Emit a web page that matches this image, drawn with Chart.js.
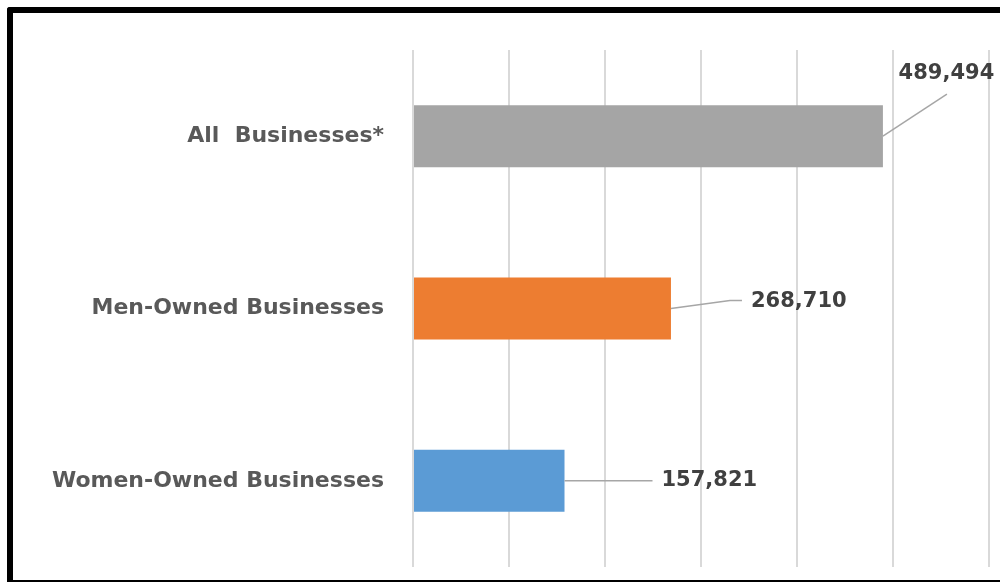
<!DOCTYPE html>
<html>
<head>
<meta charset="utf-8">
<script src="https://cdn.jsdelivr.net/npm/chart.js@4"></script>
<style>
  html, body { margin: 0; padding: 0; background: #ffffff; overflow: hidden; }
  #wrap { position: relative; width: 1000px; height: 584px; }
  #chart { position: absolute; left: 0; top: 0; }
  #frame {
    position: absolute; left: 7px; top: 7px; width: 1010px; height: 575px;
    border-left: 6px solid #000; border-top: 6px solid #000; border-bottom: 2px solid #000;
    border-top-left-radius: 3px; box-sizing: border-box; pointer-events: none;
  }
</style>
</head>
<body>
<div id="wrap">
  <canvas id="chart" width="1000" height="584"></canvas>
  <div id="frame"></div>
</div>
<script>
// Business counts by ownership
const categories = ['All  Businesses*', 'Men-Owned Businesses', 'Women-Owned Businesses'];
const businessCounts = [489494, 268710, 157821];
const barColors = ['#a5a5a5', '#ed7d31', '#5b9bd5'];

const labelFont = '"DejaVu Sans", sans-serif';

// Callout placement for each value label, relative to the bar end (pixels)
const calloutStyles = [
  { path: [[64, -42]], text: [63.5, -63], align: 'center' },
  { path: [[59, -8], [71, -8]], text: [80, -7], align: 'left' },
  { path: [[88, 0]], text: [97, 0], align: 'left' }
];

const valueCallouts = {
  id: 'valueCallouts',
  afterDatasetsDraw(chart) {
    const ctx = chart.ctx;
    const meta = chart.getDatasetMeta(0);
    ctx.save();
    meta.data.forEach((bar, i) => {
      const s = calloutStyles[i];
      const x0 = bar.x, y0 = bar.y;
      ctx.beginPath();
      ctx.moveTo(x0, y0);
      s.path.forEach(p => ctx.lineTo(x0 + p[0], y0 + p[1]));
      ctx.strokeStyle = '#a6a6a6';
      ctx.lineWidth = 1.5;
      ctx.stroke();
      ctx.font = 'bold 21px ' + labelFont;
      ctx.fillStyle = '#404040';
      ctx.textAlign = s.align;
      ctx.textBaseline = 'middle';
      const v = chart.data.datasets[0].data[i];
      ctx.fillText(v.toLocaleString('en-US'), x0 + s.text[0], y0 + s.text[1]);
    });
    ctx.restore();
  }
};

new Chart(document.getElementById('chart'), {
  type: 'bar',
  data: {
    labels: categories,
    datasets: [{
      data: businessCounts,
      backgroundColor: barColors,
      borderWidth: 0,
      categoryPercentage: 1,
      barPercentage: 0.36
    }]
  },
  options: {
    indexAxis: 'y',
    responsive: false,
    animation: false,
    events: [],
    layout: { padding: { top: 50, bottom: 17, right: 11, left: 0 } },
    plugins: { legend: { display: false }, tooltip: { enabled: false } },
    scales: {
      x: {
        min: 0, max: 600000,
        ticks: { display: false, stepSize: 100000 },
        grid: { color: '#d9d9d9', lineWidth: 2, drawTicks: false },
        border: { display: false },
        afterFit(scale) { scale.height = 0; }
      },
      y: {
        grid: { display: false, drawTicks: false },
        border: { display: false },
        ticks: {
          padding: 29,
          color: '#595959',
          font: { family: labelFont, weight: 'bold', size: 22 }
        },
        afterFit(scale) {
          scale.width = 413;
          scale.paddingTop = 0;
          scale.paddingBottom = 0;
        }
      }
    }
  },
  plugins: [valueCallouts]
});
</script>
</body>
</html>
